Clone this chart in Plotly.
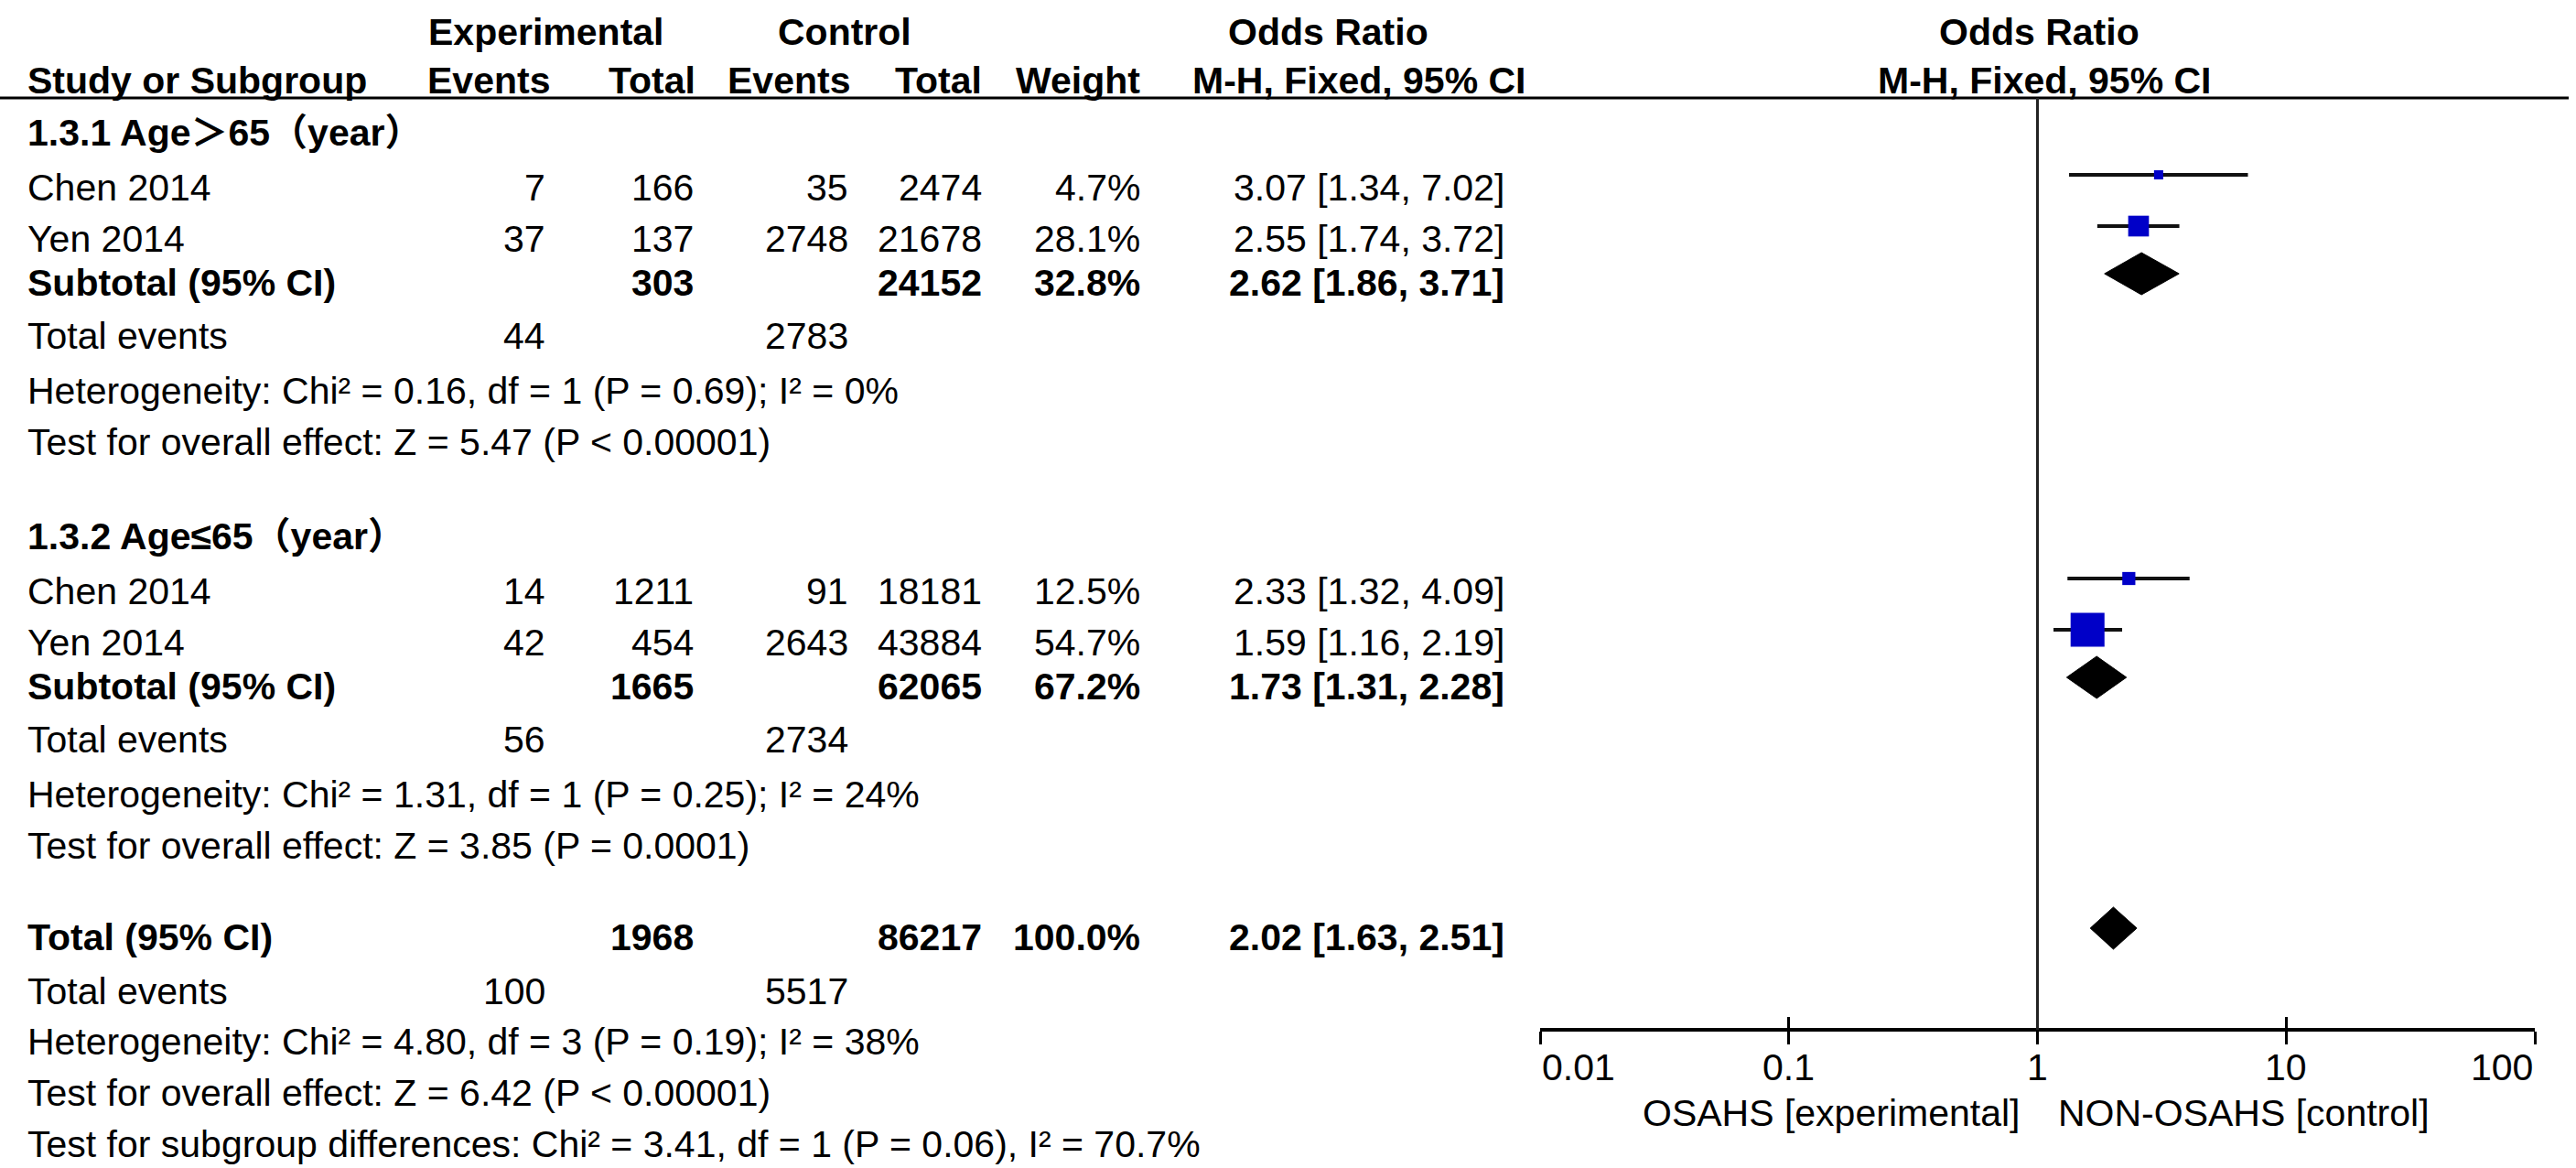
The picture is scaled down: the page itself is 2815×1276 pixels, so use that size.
import math
import plotly.graph_objects as go

# ---------------- data ----------------
study_names = ["Chen 2014", "Yen 2014", "Chen 2014", "Yen 2014"]
study_group = [0, 0, 1, 1]
exp_events = [7, 37, 14, 42]
exp_total = [166, 137, 1211, 454]
ctrl_events = [35, 2748, 91, 2643]
ctrl_total = [2474, 21678, 18181, 43884]
weights = [4.7, 28.1, 12.5, 54.7]
or_est = [3.07, 2.55, 2.33, 1.59]
or_lo = [1.34, 1.74, 1.32, 1.16]
or_hi = [7.02, 3.72, 4.09, 2.19]

group_labels = ["1.3.1 Age\uff1e65\uff08year\uff09", "1.3.2 Age\u226465\uff08year\uff09"]
sub_exp_total = [303, 1665]
sub_ctrl_total = [24152, 62065]
sub_weight = [32.8, 67.2]
sub_or = [2.62, 1.73]
sub_lo = [1.86, 1.31]
sub_hi = [3.71, 2.28]
sub_exp_events = [44, 56]
sub_ctrl_events = [2783, 2734]
sub_het = ["Heterogeneity: Chi\u00b2 = 0.16, df = 1 (P = 0.69); I\u00b2 = 0%",
           "Heterogeneity: Chi\u00b2 = 1.31, df = 1 (P = 0.25); I\u00b2 = 24%"]
sub_test = ["Test for overall effect: Z = 5.47 (P < 0.00001)",
            "Test for overall effect: Z = 3.85 (P = 0.0001)"]

tot_exp_total = 1968
tot_ctrl_total = 86217
tot_weight = 100.0
tot_or = 2.02
tot_lo = 1.63
tot_hi = 2.51
tot_exp_events = 100
tot_ctrl_events = 5517
tot_het = "Heterogeneity: Chi\u00b2 = 4.80, df = 3 (P = 0.19); I\u00b2 = 38%"
tot_test = "Test for overall effect: Z = 6.42 (P < 0.00001)"
subgroup_diff = "Test for subgroup differences: Chi\u00b2 = 3.41, df = 1 (P = 0.06), I\u00b2 = 70.7%"

tick_vals = [0.01, 0.1, 1, 10, 100]
tick_labels = ["0.01", "0.1", "1", "10", "100"]
left_label = "OSAHS [experimental]"
right_label = "NON-OSAHS [control]"

# ---------------- layout constants ----------------
W, H = 2815, 1276
FONT = "Liberation Sans, Arial, Noto Sans CJK SC, sans-serif"
FS = 41
BLUE = "#0000C8"
INK = "#111111"

HDR1, HDR2, UNDERLINE = 35, 88, 107
GROUP_BASE = [145, 586]
TOTAL_Y = 1024
AXIS_Y = 1125
TICKLAB_Y = 1166
AXTITLE_Y = 1216
STUDY_OFF = 14   # markers sit slightly above the text centre
DIAM_OFF = 10
DIAM_HALF = 23

COL_EE, COL_ET, COL_CE, COL_CT, COL_W, COL_OR = 598, 760, 929, 1075, 1248, 1646
X_LO_PX, X_HI_PX = 1683, 2770

fig = go.Figure()
annots = []


def txt(xpx, y, text, anchor="left", bold=False):
    annots.append(dict(
        x=xpx / W, xref="paper", y=y, yref="y", text=("<b>%s</b>" % text) if bold else text,
        xanchor=anchor, yanchor="middle", showarrow=False,
        font=dict(family=FONT, size=FS, color="black")))


# header
txt(597, HDR1, "Experimental", "center", True)
txt(923, HDR1, "Control", "center", True)
txt(1452, HDR1, "Odds Ratio", "center", True)
txt(2228, HDR1, "Odds Ratio", "center", True)
txt(28, HDR2, "Study or Subgroup", "left", True)
txt(603, HDR2, "Events", "right", True)
txt(762, HDR2, "Total", "right", True)
txt(931, HDR2, "Events", "right", True)
txt(COL_CT, HDR2, "Total", "right", True)
txt(COL_W, HDR2, "Weight", "right", True)
txt(1485, HDR2, "M-H, Fixed, 95% CI", "center", True)
txt(2234, HDR2, "M-H, Fixed, 95% CI", "center", True)

study_y = []
sub_y = []
for g in range(2):
    base = GROUP_BASE[g]
    txt(28, base, group_labels[g], "left", True)
    idx = [i for i in range(len(study_names)) if study_group[i] == g]
    for k, i in enumerate(idx):
        y = base + 60 + 56 * k
        study_y.append(y)
        txt(28, y, study_names[i])
        txt(COL_EE, y, str(exp_events[i]), "right")
        txt(COL_ET, y, str(exp_total[i]), "right")
        txt(COL_CE, y, str(ctrl_events[i]), "right")
        txt(COL_CT, y, str(ctrl_total[i]), "right")
        txt(COL_W, y, "%.1f%%" % weights[i], "right")
        txt(COL_OR, y, "%.2f [%.2f, %.2f]" % (or_est[i], or_lo[i], or_hi[i]), "right")
    ys = base + 164
    sub_y.append(ys)
    txt(28, ys, "Subtotal (95% CI)", "left", True)
    txt(COL_ET, ys, str(sub_exp_total[g]), "right", True)
    txt(COL_CT, ys, str(sub_ctrl_total[g]), "right", True)
    txt(COL_W, ys, "%.1f%%" % sub_weight[g], "right", True)
    txt(COL_OR, ys, "%.2f [%.2f, %.2f]" % (sub_or[g], sub_lo[g], sub_hi[g]), "right", True)
    txt(28, base + 222, "Total events")
    txt(COL_EE, base + 222, str(sub_exp_events[g]), "right")
    txt(COL_CE, base + 222, str(sub_ctrl_events[g]), "right")
    txt(28, base + 282, sub_het[g])
    txt(28, base + 338, sub_test[g])

txt(28, TOTAL_Y, "Total (95% CI)", "left", True)
txt(COL_ET, TOTAL_Y, str(tot_exp_total), "right", True)
txt(COL_CT, TOTAL_Y, str(tot_ctrl_total), "right", True)
txt(COL_W, TOTAL_Y, "%.1f%%" % tot_weight, "right", True)
txt(COL_OR, TOTAL_Y, "%.2f [%.2f, %.2f]" % (tot_or, tot_lo, tot_hi), "right", True)
txt(28, TOTAL_Y + 59, "Total events")
txt(COL_EE, TOTAL_Y + 59, str(tot_exp_events), "right")
txt(COL_CE, TOTAL_Y + 59, str(tot_ctrl_events), "right")
txt(28, TOTAL_Y + 114, tot_het)
txt(28, TOTAL_Y + 170, tot_test)
txt(28, TOTAL_Y + 226, subgroup_diff)

# ---------------- forest marks ----------------
ci_x, ci_y = [], []
for i in range(len(study_names)):
    y = study_y[i] - STUDY_OFF
    ci_x += [or_lo[i], or_hi[i], None]
    ci_y += [y, y, None]
fig.add_trace(go.Scatter(x=ci_x, y=ci_y, mode="lines", line=dict(color=INK, width=4),
                         hoverinfo="skip", showlegend=False))
fig.add_trace(go.Scatter(
    x=or_est, y=[v - STUDY_OFF for v in study_y], mode="markers", opacity=1,
    marker=dict(symbol="square", size=[7.5 + 0.54 * w for w in weights], color=BLUE,
                opacity=1, line=dict(width=0)),
    hoverinfo="skip", showlegend=False))

diamonds = [(sub_lo[g], sub_or[g], sub_hi[g], sub_y[g]) for g in range(2)]
diamonds.append((tot_lo, tot_or, tot_hi, TOTAL_Y))
for lo, est, hi, yrow in diamonds:
    yc = yrow - DIAM_OFF
    fig.add_trace(go.Scatter(
        x=[lo, est, hi, est, lo], y=[yc, yc - DIAM_HALF, yc, yc + DIAM_HALF, yc],
        mode="lines", fill="toself", fillcolor="black", line=dict(color="black", width=1),
        hoverinfo="skip", showlegend=False))

# tick labels and axis titles (annotations on a log axis take log10 positions)
for v, lab in zip(tick_vals, tick_labels):
    anc = "left" if v == tick_vals[0] else ("right" if v == tick_vals[-1] else "center")
    annots.append(dict(x=math.log10(v), xref="x", y=TICKLAB_Y, yref="y", text=lab, xanchor=anc,
                       yanchor="middle", showarrow=False,
                       font=dict(family=FONT, size=FS, color="black")))
annots.append(dict(x=math.log10(1), xref="x", y=AXTITLE_Y, yref="y", text=left_label,
                   xanchor="right", xshift=-18, yanchor="middle", showarrow=False,
                   font=dict(family=FONT, size=FS, color="black")))
annots.append(dict(x=math.log10(1), xref="x", y=AXTITLE_Y, yref="y", text=right_label,
                   xanchor="left", xshift=20, yanchor="middle", showarrow=False,
                   font=dict(family=FONT, size=FS, color="black")))

shapes = [
    dict(type="line", xref="paper", yref="y", x0=0, x1=2807 / W, y0=UNDERLINE, y1=UNDERLINE,
         line=dict(color="black", width=3)),
    dict(type="line", xref="x", yref="y", x0=1, x1=1, y0=UNDERLINE, y1=AXIS_Y,
         line=dict(color="#222222", width=3)),
]

axis_pos = 1 - AXIS_Y / H
xdom = [X_LO_PX / W, X_HI_PX / W]
common_x = dict(type="log", range=[-2, 2], domain=xdom, anchor="free", position=axis_pos,
                tickvals=tick_vals, showticklabels=False, showgrid=False, zeroline=False,
                tickcolor="black", tickwidth=3, ticklen=14)

fig.update_layout(
    width=W, height=H, margin=dict(l=0, r=0, t=0, b=0),
    paper_bgcolor="white", plot_bgcolor="rgba(0,0,0,0)",
    xaxis=dict(**common_x, ticks="outside", showline=True, linecolor="black", linewidth=4),
    xaxis2=dict(**common_x, ticks="inside", overlaying="x", showline=False),
    yaxis=dict(range=[H, 0], domain=[0, 1], visible=False, fixedrange=True),
    annotations=annots, shapes=shapes, showlegend=False,
)
# invisible trace so the overlay axis (upward tick halves) is drawn
fig.add_trace(go.Scatter(x=[1], y=[AXIS_Y], xaxis="x2", mode="markers",
                         marker=dict(opacity=0), hoverinfo="skip", showlegend=False))

fig.write_html("out.html", config={"displayModeBar": False},
               post_script="document.body.style.margin='0';document.body.style.overflow='hidden';")
